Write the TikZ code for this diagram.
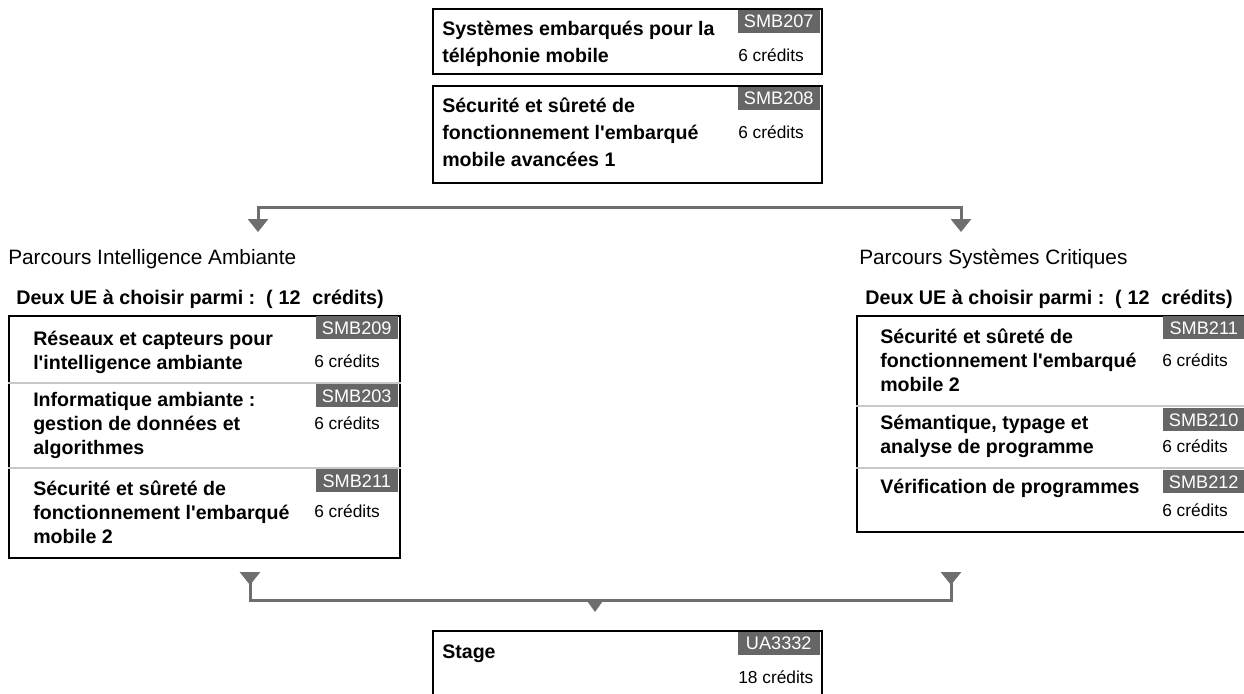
\documentclass[tikz,border=0pt]{standalone}
\usepackage{fontspec}
\setmainfont{Liberation Sans}
\usetikzlibrary{arrows.meta}
\newlength\pxu \setlength\pxu{0.75pt}
\definecolor{badgegray}{HTML}{666666}
\definecolor{linkgray}{HTML}{6E6E6E}
\definecolor{sepgray}{HTML}{C8C8C8}
\begin{document}
\begin{tikzpicture}[x=0.75pt,y=-0.75pt,
  uebox/.style={draw=black,line width=1.8pt,fill=white,anchor=north west,inner sep=0pt,minimum width=389\pxu},
  codetag/.style={fill=badgegray,text=white,font=\fontsize{13.6}{15}\selectfont,inner sep=0pt,minimum width=82\pxu,minimum height=23\pxu,anchor=north east},
  uetitle/.style={font=\bfseries\fontsize{14.7}{18}\selectfont,align=left,anchor=base west,inner sep=0pt},
  toptitle/.style={uetitle,font=\bfseries\fontsize{14.7}{20}\selectfont},
  credtxt/.style={font=\fontsize{13}{15}\selectfont,anchor=base west,inner sep=0pt},
  parcours/.style={font=\fontsize{15.6}{18}\selectfont,anchor=base west,inner sep=0pt},
  choix/.style={font=\bfseries\fontsize{14.8}{18}\selectfont,anchor=base west,inner sep=0pt},
  rowsep/.style={draw=sepgray,line width=0.8pt},
  link/.style={draw=linkgray,line width=2.25pt,line join=miter}
]
\useasboundingbox (0,0) rectangle (1244,693);
\clip (0,0) rectangle (1244,693);
\fill[white] (0,0) rectangle (1244,693);

% top boxes (title nodes are placed at the baseline of their last line)
\node[uebox,minimum height=65\pxu] (b207) at (432,8) {};
\node[codetag] (t207) at (820,9.5) {SMB207};
\node[toptitle] (n207) at (442,62) {Systèmes embarqués pour la\\téléphonie mobile};
\node[credtxt] (c207) at (738,61) {6 crédits};

\node[uebox,minimum height=97\pxu] (b208) at (432,85) {};
\node[codetag] (t208) at (820,86.5) {SMB208};
\node[toptitle] (n208) at (442,166) {Sécurité et sûreté de\\fonctionnement l\textquotesingle embarqué\\mobile avancées 1};
\node[credtxt] (c208) at (738,138) {6 crédits};

% top connector
\coordinate (tl) at (258,207);
\coordinate (tr) at (961,207);
\coordinate (al) at (258,232);
\coordinate (ar) at (961,232);
\draw[link,{Triangle[width=15pt,length=9.75pt]}-{Triangle[width=15pt,length=9.75pt]}] (al) -- (tl) -- (tr) -- (ar);

% labels
\node[parcours] (pIA) at (8,264) {Parcours Intelligence Ambiante};
\node[parcours] (pSC) at (859,264) {Parcours Systèmes Critiques};
\node[choix] (cIA) at (16,304) {Deux UE à choisir parmi :\hspace{0.55em}(\hspace{0.3em}12\hspace{0.6em}crédits)};
\node[choix] (cSC) at (865,304) {Deux UE à choisir parmi :\hspace{0.55em}(\hspace{0.3em}12\hspace{0.6em}crédits)};

% left group
\node[uebox,line width=1.5pt,minimum width=391\pxu,minimum height=242\pxu] (gIA) at (8,315) {};
\draw[rowsep] (gIA.west |- 0,383) -- (gIA.east |- 0,383);
\draw[rowsep] (gIA.west |- 0,468) -- (gIA.east |- 0,468);
\node[codetag] (t209) at (398,316) {SMB209};
\node[uetitle] (n209) at (33,369) {Réseaux et capteurs pour\\l\textquotesingle intelligence ambiante};
\node[credtxt] (c209) at (314,367) {6 crédits};
\node[codetag] (t203) at (398,384) {SMB203};
\node[uetitle] (n203) at (33,454) {Informatique ambiante :\\gestion de données et\\algorithmes};
\node[credtxt] (c203) at (314,429) {6 crédits};
\node[codetag] (t211a) at (398,469) {SMB211};
\node[uetitle] (n211a) at (33,543) {Sécurité et sûreté de\\fonctionnement l\textquotesingle embarqué\\mobile 2};
\node[credtxt] (c211a) at (314,517) {6 crédits};

% right group
\node[uebox,line width=1.5pt,minimum width=390\pxu,minimum height=216\pxu] (gSC) at (856,315) {};
\draw[rowsep] (gSC.west |- 0,406) -- (gSC.east |- 0,406);
\draw[rowsep] (gSC.west |- 0,468) -- (gSC.east |- 0,468);
\node[codetag] (t211b) at (1245,316) {SMB211};
\node[uetitle] (n211b) at (880,391) {Sécurité et sûreté de\\fonctionnement l\textquotesingle embarqué\\mobile 2};
\node[credtxt] (c211b) at (1162,366) {6 crédits};
\node[codetag] (t210) at (1245,408) {SMB210};
\node[uetitle] (n210) at (880,453) {Sémantique, typage et\\analyse de programme};
\node[credtxt] (c210) at (1162,452) {6 crédits};
\node[codetag] (t212) at (1245,470) {SMB212};
\node[uetitle] (n212) at (880,493) {Vérification de programmes};
\node[credtxt] (c212) at (1162,516) {6 crédits};

% bottom connector
\coordinate (fl) at (250,572);
\coordinate (fr) at (951,572);
\coordinate (hl) at (250,600);
\coordinate (hr) at (951,600);
\coordinate (hm) at (595,601);
\coordinate (sm) at (595,612);
\draw[link,{Triangle[reversed,width=15pt,length=9.75pt]}-{Triangle[reversed,width=15pt,length=9.75pt]}] (fl) -- (hl) -- (hr) -- (fr);
\draw[link,-{Triangle[width=11.25pt,length=8.25pt]}] (hm) -- (sm);

% stage
\node[uebox,minimum height=100\pxu] (stage) at (432,630) {};
\node[codetag] (tua) at (820,631.5) {UA3332};
\node[uetitle] (nua) at (442,658) {Stage};
\node[credtxt] (cua) at (738,683) {18 crédits};
\end{tikzpicture}
\end{document}
